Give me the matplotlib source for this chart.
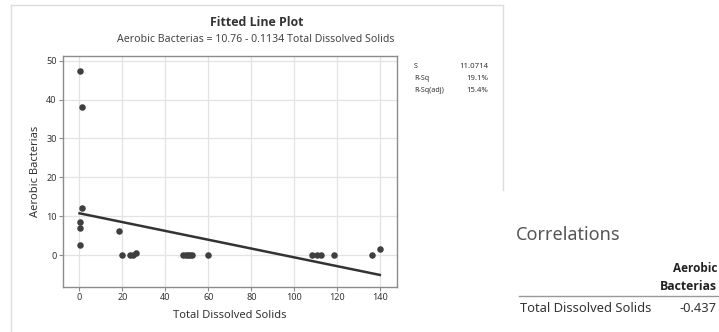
import matplotlib
matplotlib.use("Agg")
import matplotlib.pyplot as plt
from matplotlib.lines import Line2D
import numpy as np

plt.rcParams['font.family'] = ['Noto Sans', 'DejaVu Sans']

# Data
tds = [0.1, 1.4, 1.4, 0.3, 0.3, 0.3, 18.5, 19.7, 23.5, 24.8, 26.4,
       48.4, 49.5, 50.6, 51.6, 52.3, 60.0, 108.1, 110.4, 112.6, 118.5, 136.4, 139.8]
aerobic = [47.3, 38.2, 12.0, 8.6, 7.0, 2.6, 6.2, 0.0, 0.0, 0.0, 0.6,
           0.0, 0.0, 0.0, 0.0, 0.0, 0.0, 0.0, 0.0, 0.0, 0.0, 0.0, 1.5]
intercept = 10.76
slope = -0.1134
x_ticks = [0, 20, 40, 60, 80, 100, 120, 140]
y_ticks = [0, 10, 20, 30, 40, 50]
stat_names = ["S", "R-Sq", "R-Sq(adj)"]
stat_values = ["11.0714", "19.1%", "15.4%"]
corr_row = "Total Dissolved Solids"
corr_col = ["Aerobic", "Bacterias"]
corr_value = "-0.437"

W, H = 719, 332
fig = plt.figure(figsize=(W / 100, H / 100), dpi=100)

def fx(px):
    return px / W

def fy(py):
    return 1 - py / H

BOLD = ['Open Sans', 'Lato', 'DejaVu Sans']

ax = fig.add_axes([fx(63), fy(287), fx(397) - fx(63), fy(56) - fy(287)])
ax.set_xlim(-7.6, 147.8)
ax.set_ylim(-8.2, 51.2)
ax.set_xticks(x_ticks)
ax.set_yticks(y_ticks)
ax.grid(True, color="#e3e3e3", linewidth=0.9)
ax.set_axisbelow(True)
for s in ax.spines.values():
    s.set_color("#8c8c8c")
    s.set_linewidth(1.0)
ax.tick_params(axis="both", labelsize=6.5, colors="#8c8c8c", labelcolor="#333333",
               length=3, width=0.8, pad=1.5)

ax.scatter(tds, aerobic, s=22, color="#3f3f3f", zorder=3, linewidths=0)
xf = np.array([min(tds), max(tds)])
ax.plot(xf, intercept + slope * xf, color="#333333", linewidth=1.8, zorder=4)

ax.set_xlabel("Total Dissolved Solids", fontsize=8, color="#333333")
ax.set_ylabel("Aerobic Bacterias", fontsize=8, color="#333333")
ax.xaxis.set_label_coords(0.5, (287 - 316) / 231, transform=ax.transAxes)
ax.xaxis.label.set_va("center")
ax.yaxis.set_label_coords((36 - 63) / 334, 0.5, transform=ax.transAxes)
ax.yaxis.label.set_va("center")

fig.text(fx(257), fy(23), "Fitted Line Plot", ha="center", va="center",
         fontsize=8.9, fontweight="bold", family=BOLD, color="#333333")
fig.text(fx(256), fy(40), f"Aerobic Bacterias = {intercept:.2f} - {abs(slope):.4f} Total Dissolved Solids",
         ha="center", va="center", fontsize=7.6, color="#444444")

for i, (n, v) in enumerate(zip(stat_names, stat_values)):
    yy = 66 + i * 12
    fig.text(fx(414), fy(yy), n, ha="left", va="center", fontsize=5.2, color="#333333")
    fig.text(fx(488), fy(yy), v, ha="right", va="center", fontsize=5.6, color="#333333")

# panel borders
fig.add_artist(Line2D([fx(11), fx(503)], [fy(5), fy(5)], color="#dddddd", lw=1))
fig.add_artist(Line2D([fx(11), fx(11)], [fy(5), fy(332)], color="#dddddd", lw=1))
fig.add_artist(Line2D([fx(503), fx(503)], [fy(5), fy(190)], color="#dddddd", lw=1))

# correlations table
fig.text(fx(516), fy(235), "Correlations", ha="left", va="center", fontsize=13, color="#555555")
fig.text(fx(717), fy(268), corr_col[0], ha="right", va="center", fontsize=8.5,
         fontweight="bold", family=BOLD, color="#222222")
fig.text(fx(717), fy(286), corr_col[1], ha="right", va="center", fontsize=8.8,
         fontweight="bold", family=BOLD, color="#222222")
fig.add_artist(Line2D([fx(519), fx(719)], [fy(296), fy(296)], color="#999999", lw=1))
fig.text(fx(520), fy(308), corr_row, ha="left", va="center", fontsize=9.3, color="#333333")
fig.text(fx(717), fy(308), corr_value, ha="right", va="center", fontsize=9.3, color="#333333")

fig.savefig("out.png", dpi=100)
